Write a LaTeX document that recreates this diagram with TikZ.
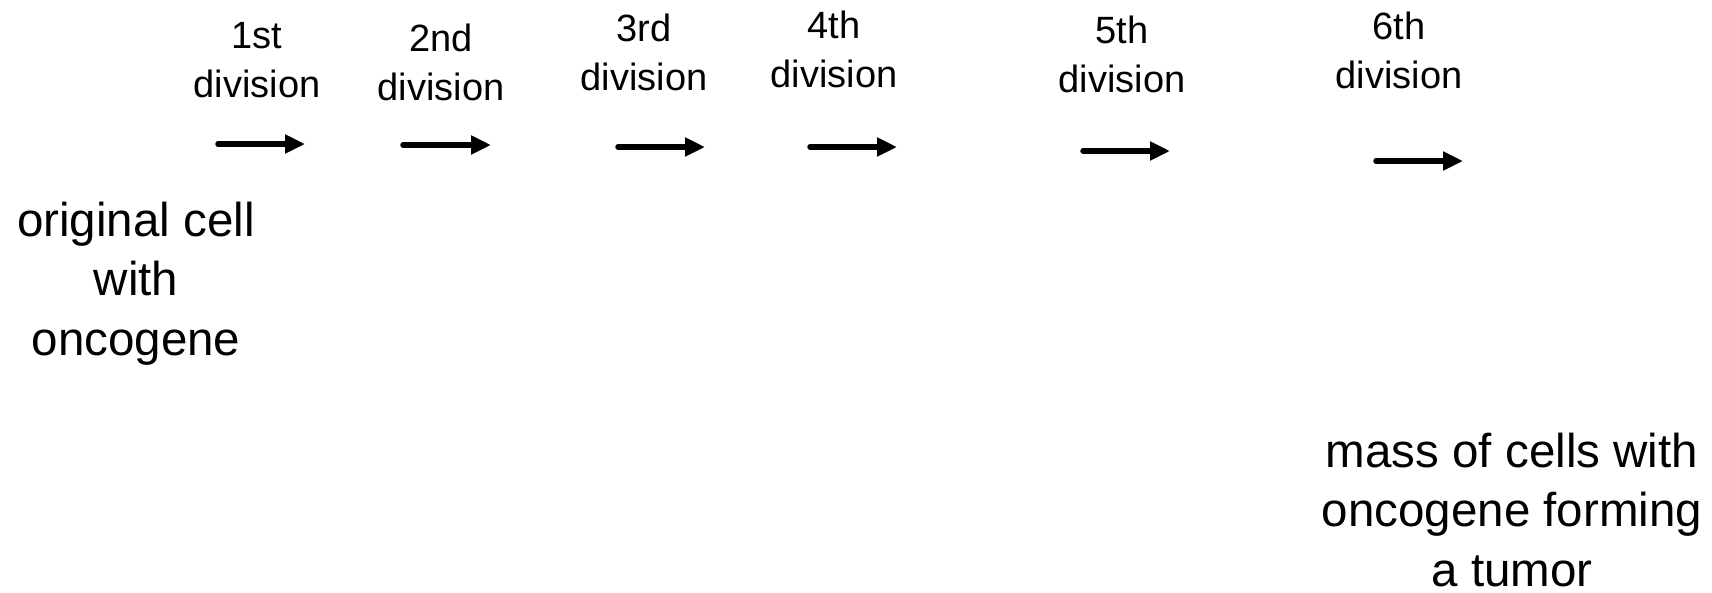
\documentclass[tikz,border=0pt]{standalone}
\usepackage{fontspec}
\setmainfont{Liberation Sans}
\usetikzlibrary{arrows.meta}
\begin{document}
\begin{tikzpicture}[x=1pt,y=-1pt,
  steplabel/.style={font=\fontsize{38}{49}\selectfont, align=center, anchor=base, inner sep=0pt},
  bigtext/.style={font=\fontsize{47.5}{59.5}\selectfont, align=center, anchor=base, inner sep=0pt},
  divarrow/.style={line width=5.5pt, line cap=round, -{Triangle[length=20pt,width=18pt]}}]
\useasboundingbox (0,0) rectangle (1712,592);

% division labels (anchored at the baseline of the last line)
\node[steplabel] (d1) at (257,97)  {1st\\division};
\node[steplabel] (d2) at (441,100) {2nd\\division};
\node[steplabel] (d3) at (644,90)  {3rd\\division};
\node[steplabel] (d4) at (834,87)  {4th\\division};
\node[steplabel] (d5) at (1122,92) {5th\\division};
\node[steplabel] (d6) at (1399,88) {6th\\division};

% arrow end points
\coordinate (a1s) at (218,144);  \coordinate (a1e) at (305,144);
\coordinate (a2s) at (403,145);  \coordinate (a2e) at (491,145);
\coordinate (a3s) at (618,147);  \coordinate (a3e) at (705,147);
\coordinate (a4s) at (810,147);  \coordinate (a4e) at (897,147);
\coordinate (a5s) at (1083,151); \coordinate (a5e) at (1170,151);
\coordinate (a6s) at (1376,161); \coordinate (a6e) at (1463,161);

\draw[divarrow] (a1s) -- (a1e);
\draw[divarrow] (a2s) -- (a2e);
\draw[divarrow] (a3s) -- (a3e);
\draw[divarrow] (a4s) -- (a4e);
\draw[divarrow] (a5s) -- (a5e);
\draw[divarrow] (a6s) -- (a6e);

% start and end descriptions
\node[bigtext] (orig) at (136,355) {original cell\\with\\oncogene};
\node[bigtext] (mass) at (1512,586) {mass of cells with\\oncogene forming\\a tumor};
\end{tikzpicture}
\end{document}
